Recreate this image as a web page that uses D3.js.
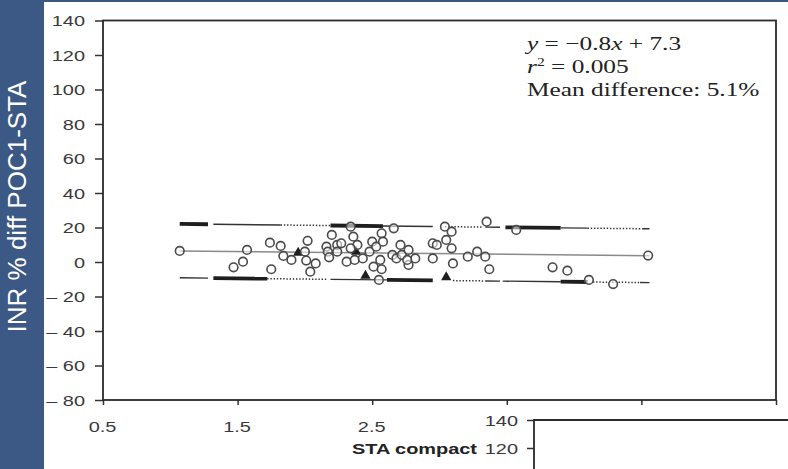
<!DOCTYPE html>
<html>
<head>
<meta charset="utf-8">
<script src="https://cdn.jsdelivr.net/npm/d3@7"></script>
<style>
  html, body { margin: 0; padding: 0; background: #fff; }
  svg { display: block; }
</style>
</head>
<body>
<svg id="chart" width="788" height="469"></svg>
<script>
// INR measured on the STA compact analyser vs. % difference POC1 − STA
const staInr = [1.07,1.57,1.47,1.54,1.74,1.75,1.82,1.84,1.90,2.02,2.00,2.01,2.08,2.04,2.16,
  2.17,2.20,2.18,2.24,2.24,2.27,2.31,2.34,2.36,2.39,2.34,2.37,2.43,2.48,2.50,
  2.53,2.57,2.58,2.56,2.51,2.57,2.55,2.66,2.65,2.68,2.71,2.72,2.77,2.77,2.82,
  2.76,2.95,2.98,2.95,3.04,3.09,3.05,3.09,3.10,3.21,3.28,3.34,3.35,3.37,3.57,
  3.84,3.95,4.11,4.29,4.55];
const pctDiff = [6.4,7.0,-3.1,0.2,11.2,-4.2,9.3,3.5,1.2,12.3,6.0,0.8,-0.8,-5.6,8.9,
  6.0,15.7,2.7,9.9,6.0,10.8,0.2,20.5,14.7,9.9,7.9,1.2,2.1,6.0,11.8,
  8.9,16.6,11.8,1.2,-2.7,-4.2,-10.4,19.5,4.1,2.1,9.9,4.1,7.0,-1.7,2.1,
  1.2,10.8,9.9,2.1,20.5,17.6,12.8,7.9,-0.8,3.1,6.0,3.1,23.4,-4.2,18.6,
  -3.1,-5.0,-10.4,-12.8,3.7];

// flagged samples (filled triangles)
const flagInr = [1.95, 2.38, 2.45, 3.05];
const flagDiff = [5.4, 6.0, -8.0, -8.8];

// regression of the difference on INR, and the limits of agreement around it
const slope = -0.8;
const intercept = 7.3;
const limitOffset = 15.6;
const fitRange = [1.07, 4.56];

// stretches of the limit lines: [from INR, to INR, kind]
const upperStretches = [[1.07,1.28,"heavy"],[1.32,1.82,"light"],[1.82,2.19,"dotted"],[2.19,2.58,"heavy"],
  [2.58,2.95,"light"],[3.04,3.32,"dotted"],[3.34,3.45,"light"],[3.49,3.90,"heavy"],
  [3.90,4.10,"light"],[4.10,4.51,"dotted"],[4.51,4.56,"light"]];
const lowerStretches = [[1.07,1.28,"light"],[1.32,1.72,"heavy"],[1.72,2.16,"dotted"],[2.19,2.61,"light"],
  [2.61,2.95,"heavy"],[3.10,3.34,"dotted"],[3.34,3.45,"light"],[3.47,3.90,"light"],
  [3.90,4.10,"heavy"],[4.14,4.49,"dotted"],[4.49,4.56,"light"]];

const yTicks = [140,120,100,80,60,40,20,0,-20,-40,-60,-80];
const xTicks = [0.5,1.5,2.5,3.5,4.5,5.5];
// labels of the last three ticks sit under the next panel
const xTickLabels = ["0.5","1.5","2.5","","",""];
const insetTicks = [140,120];

const statLines = ["y = \u22120.8x + 7.3", "r\u00b2 = 0.005", "Mean difference: 5.1%"];
const yTitle = "INR % diff POC1-STA";
const xTitle = "STA compact";

const svg = d3.select("#chart");
const W = 788, H = 469;
const box = {left: 103, right: 776, top: 20.5, bottom: 400};
const stretchX = 1.33;

const x = d3.scaleLinear().domain([0.5, 5.5]).range([box.left, box.right]);
const y = d3.scaleLinear().domain([-80, 140]).range([box.bottom, box.top]);
const fit = v => slope * v + intercept;

svg.append("rect").attr("width", W).attr("height", H).attr("fill", "#fff");

// y axis ticks and labels
const yAxis = svg.append("g").attr("transform", `translate(${box.left},0)`)
  .call(d3.axisLeft(y).tickValues(yTicks).tickSize(8)
    .tickFormat(d => d < 0 ? "\u2013 " + Math.abs(d) : String(d)));
yAxis.select(".domain").remove();
yAxis.selectAll(".tick line").attr("stroke", "#333").attr("stroke-width", 1.5);
yAxis.selectAll(".tick text")
  .attr("x", 0).attr("dy", "0.36em")
  .attr("transform", `translate(-18,0) scale(${stretchX},1)`)
  .attr("fill", "#3a3a3a").attr("font-family", "Liberation Sans, Arial, sans-serif")
  .attr("font-size", 15);

// x axis ticks and labels
const xAxis = svg.append("g").attr("transform", `translate(0,${box.bottom})`)
  .call(d3.axisBottom(x).tickValues(xTicks).tickSize(5)
    .tickFormat((d, i) => xTickLabels[i]));
xAxis.select(".domain").remove();
xAxis.selectAll(".tick line").attr("stroke", "#333").attr("stroke-width", 1.5);
xAxis.selectAll(".tick text")
  .attr("y", 0).attr("dy", 0)
  .attr("transform", `translate(-1,32) scale(${stretchX},1)`)
  .attr("fill", "#3a3a3a").attr("font-family", "Liberation Sans, Arial, sans-serif")
  .attr("font-size", 15);

// plot frame
svg.append("rect")
  .attr("x", box.left).attr("y", box.top)
  .attr("width", box.right - box.left).attr("height", box.bottom - box.top)
  .attr("fill", "none").attr("stroke", "#2a2a2a").attr("stroke-width", 1.8);

// regression line
svg.append("line")
  .attr("x1", x(fitRange[0])).attr("y1", y(fit(fitRange[0])))
  .attr("x2", x(fitRange[1])).attr("y2", y(fit(fitRange[1])))
  .attr("stroke", "#8a8a8a").attr("stroke-width", 1.5);

// limits of agreement
const kindStyle = {
  heavy:  {w: 3.8, dash: null, c: "#1e1e1e"},
  light:  {w: 1.4, dash: null, c: "#333"},
  dotted: {w: 1.5, dash: "1.4,1.8", c: "#333"}
};
function drawLimit(stretches, offset) {
  svg.append("g").selectAll("line").data(stretches).join("line")
    .attr("x1", d => x(d[0])).attr("y1", d => y(fit(d[0]) + offset))
    .attr("x2", d => x(d[1])).attr("y2", d => y(fit(d[1]) + offset))
    .attr("stroke", d => kindStyle[d[2]].c)
    .attr("stroke-width", d => kindStyle[d[2]].w)
    .attr("stroke-dasharray", d => kindStyle[d[2]].dash);
}
drawLimit(upperStretches, limitOffset);
drawLimit(lowerStretches, -limitOffset);

// flagged samples
svg.append("g").selectAll("path").data(flagInr).join("path")
  .attr("d", d3.symbol(d3.symbolTriangle, 46))
  .attr("transform", (d, i) => `translate(${x(d)},${y(flagDiff[i])})`)
  .attr("fill", "#1e1e1e");

// individual samples
svg.append("g").selectAll("circle").data(staInr).join("circle")
  .attr("cx", d => x(d)).attr("cy", (d, i) => y(pctDiff[i]))
  .attr("r", 4.3)
  .attr("fill", "#fff").attr("fill-opacity", 0.55)
  .attr("stroke", "#4a4a4a").attr("stroke-width", 1.6);

// statistics
svg.append("g").selectAll("text").data(statLines).join("text")
  .attr("transform", (d, i) => `translate(527,${50 + i * 23}) scale(1.3,1)`)
  .attr("font-family", "Liberation Serif, Times New Roman, serif")
  .attr("font-size", 19.5).attr("fill", "#222")
  .each(function (d, i) {
    const t = d3.select(this);
    if (i === 0) {
      t.append("tspan").attr("font-style", "italic").text("y");
      t.append("tspan").text(" = \u22120.8");
      t.append("tspan").attr("font-style", "italic").text("x");
      t.append("tspan").text(" + 7.3");
    } else if (i === 1) {
      t.append("tspan").attr("font-style", "italic").text("r");
      t.append("tspan").attr("font-size", 12).attr("dy", -7).text("2");
      t.append("tspan").attr("dy", 7).text(" = 0.005");
    } else {
      t.text(d);
    }
  });

// x title
svg.append("text")
  .attr("transform", `translate(477,454) scale(${stretchX},1)`)
  .attr("text-anchor", "end")
  .attr("font-family", "Liberation Sans, Arial, sans-serif")
  .attr("font-size", 15).attr("font-weight", "bold").attr("fill", "#222")
  .text(xTitle);

// next panel, partly visible below
const inset = {left: 534, top: 420};
svg.append("rect").attr("x", 480).attr("y", 409).attr("width", W - 480).attr("height", H - 409)
  .attr("fill", "#fff");
const yInset = d3.scaleLinear().domain([120, 140]).range([inset.top + 28, inset.top]);
const insetAxis = svg.append("g").attr("transform", `translate(${inset.left},0)`)
  .call(d3.axisLeft(yInset).tickValues(insetTicks).tickSize(7));
insetAxis.select(".domain").remove();
insetAxis.selectAll(".tick line").attr("stroke", "#333").attr("stroke-width", 1.5);
insetAxis.selectAll(".tick text")
  .attr("x", 0).attr("dy", "0.36em")
  .attr("transform", `translate(-16,0) scale(${stretchX},1)`)
  .attr("fill", "#3a3a3a").attr("font-family", "Liberation Sans, Arial, sans-serif")
  .attr("font-size", 15);
svg.append("path")
  .attr("d", `M${inset.left},${H} V${inset.top} H${W}`)
  .attr("fill", "none").attr("stroke", "#2a2a2a").attr("stroke-width", 1.8);

// slide side band with the y title
const band = "#3c5884";
svg.append("rect").attr("x", 0).attr("y", 0).attr("width", 44).attr("height", H).attr("fill", band);
svg.append("rect").attr("x", 0).attr("y", 0).attr("width", W).attr("height", 2).attr("fill", band);
svg.append("text")
  .attr("transform", "translate(25.5,206.5) rotate(-90)")
  .attr("text-anchor", "middle")
  .attr("font-family", "Liberation Sans, Arial, sans-serif")
  .attr("font-size", 26).attr("fill", "#fff")
  .text(yTitle);
</script>
</body>
</html>
